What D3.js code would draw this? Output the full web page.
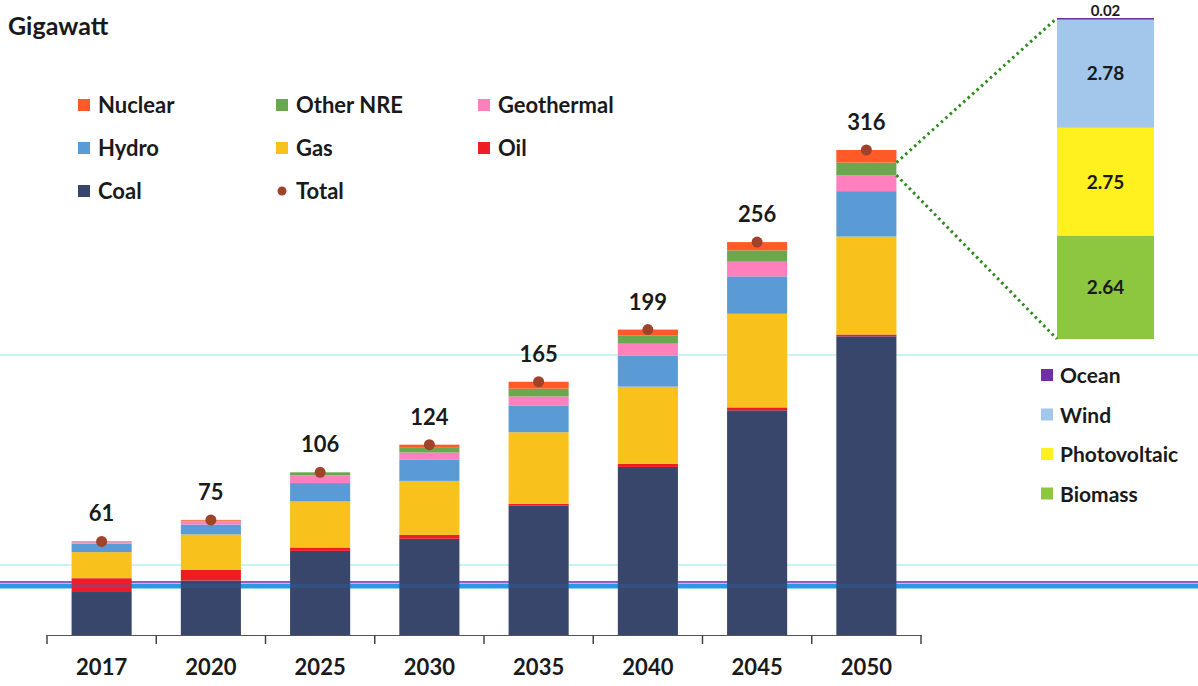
<!DOCTYPE html>
<html>
<head>
<meta charset="utf-8">
<script src="https://cdn.jsdelivr.net/npm/d3@7"></script>
<style>
  body { margin: 0; background: #fff; }
  text { font-family: Lato, "Open Sans", sans-serif; font-weight: 700; fill: #1a1a1a; }
</style>
</head>
<body>
<div id="chart"></div>
<script>
// data (Gigawatt)
var years = ["2017", "2020", "2025", "2030", "2035", "2040", "2045", "2050"];
var coal       = [28, 35.5, 54.8, 62.7, 84.2, 109.5, 146.4, 194.6];
var oil        = [9, 7, 2.2, 2.5, 1.3, 2, 1.9, 1.2];
var gas        = [17, 23, 30, 35.2, 46.6, 50.3, 61, 63.8];
var hydro      = [5.5, 6.5, 12, 13.7, 17.5, 20.2, 24.4, 29.6];
var geothermal = [1, 2, 5, 4.8, 5.8, 7.8, 9.5, 10.4];
var otherNre   = [0.5, 0.5, 2, 3.5, 5.1, 5.2, 7.4, 8.2];
var nuclear    = [0, 0.5, 0, 1.6, 4.5, 4, 5.4, 8.2];
var totals     = [61, 75, 106, 124, 165, 199, 256, 316];

// breakdown of "Other NRE" in 2050, bottom to top
var nreNames  = ["Biomass", "Photovoltaic", "Wind", "Ocean"];
var nreValues = [2.64, 2.75, 2.78, 0.02];

var keys = ["Coal", "Oil", "Gas", "Hydro", "Geothermal", "Other NRE", "Nuclear"];
var color = d3.scaleOrdinal()
    .domain(keys)
    .range(["#37466a", "#ee1c25", "#f9c11c", "#5b9bd5", "#ff80bd", "#6aa84f", "#ff5a28"]);
var nreColor = d3.scaleOrdinal()
    .domain(nreNames)
    .range(["#8dc63f", "#fff01f", "#a2c7ea", "#7030a0"]);

var table = years.map(function(y, i) {
  return {year: y, "Coal": coal[i], "Oil": oil[i], "Gas": gas[i], "Hydro": hydro[i],
          "Geothermal": geothermal[i], "Other NRE": otherNre[i], "Nuclear": nuclear[i],
          total: totals[i]};
});

var width = 1198, height = 686;

var svg = d3.select("#chart")
  .append("svg")
    .attr("width", width)
    .attr("height", height);

// scales
var x = d3.scaleBand()
    .domain(years)
    .range([47, 921])
    .paddingInner(0.45)
    .paddingOuter(0.225);
var y = d3.scaleLinear()
    .domain([0, 316])
    .range([635, 150]);

// faint scan guide lines seen in the picture
svg.append("line").attr("x1", 0).attr("x2", width).attr("y1", 355).attr("y2", 355)
    .attr("stroke", "#8fe8ee").attr("stroke-width", 1.2);
svg.append("line").attr("x1", 0).attr("x2", width).attr("y1", 565).attr("y2", 565)
    .attr("stroke", "#8fe8ee").attr("stroke-width", 1.2);
svg.append("line").attr("x1", 0).attr("x2", width).attr("y1", 586).attr("y2", 586)
    .attr("stroke", "#2aa8e8").attr("stroke-width", 5);
svg.append("line").attr("x1", 0).attr("x2", width).attr("y1", 582).attr("y2", 582)
    .attr("stroke", "#9b59d0").attr("stroke-width", 2);

// stacked bars
var series = d3.stack().keys(keys)(table);

svg.append("g")
  .selectAll("g")
  .data(series)
  .enter().append("g")
    .attr("fill", function(d) { return color(d.key); })
  .selectAll("rect")
  .data(function(d) { return d; })
  .enter().append("rect")
    .attr("x", function(d) { return x(d.data.year); })
    .attr("y", function(d) { return y(d[1]); })
    .attr("height", function(d) { return y(d[0]) - y(d[1]); })
    .attr("width", x.bandwidth());

// blue guide line shows through the bars
svg.append("line").attr("x1", 0).attr("x2", width).attr("y1", 586).attr("y2", 586)
    .attr("stroke", "#2a6fd0").attr("stroke-width", 4).attr("opacity", 0.25);

// total markers
svg.append("g")
  .selectAll("circle")
  .data(table)
  .enter().append("circle")
    .attr("cx", function(d) { return x(d.year) + x.bandwidth() / 2; })
    .attr("cy", function(d) { return y(d.total); })
    .attr("r", 5.5)
    .attr("fill", "#a0432b");

svg.append("g")
  .selectAll("text")
  .data(table)
  .enter().append("text")
    .attr("x", function(d) { return x(d.year) + x.bandwidth() / 2; })
    .attr("y", function(d) { return y(d.total) - 20; })
    .attr("text-anchor", "middle")
    .style("font-size", "22px")
    .text(function(d) { return d.total; });

// X axis: labels under bars, ticks between the bands
var xAxis = svg.append("g")
    .attr("transform", "translate(0," + y(0) + ")")
    .call(d3.axisBottom(x).tickSize(0).tickPadding(24));
xAxis.select(".domain").attr("stroke", "#555").attr("stroke-width", 1.2);
xAxis.selectAll("text")
    .style("font-size", "22px")
    .style("font-family", "Lato, sans-serif")
    .style("font-weight", "700")
    .attr("fill", "#1a1a1a");

var bounds = years.map(function(d) { return x(d) - (x.step() - x.bandwidth()) / 2; });
bounds.push(x.range()[1]);
xAxis.selectAll(".bound")
  .data(bounds)
  .enter().append("line")
    .attr("class", "bound")
    .attr("x1", function(d) { return d; })
    .attr("x2", function(d) { return d; })
    .attr("y1", 0)
    .attr("y2", 9)
    .attr("stroke", "#444")
    .attr("stroke-width", 1.5);

// inset bar: breakdown of Other NRE 2050
var yi = d3.scaleLinear()
    .domain([0, d3.sum(nreValues)])
    .range([339, 18]);
var insetX = 1057, insetW = 97;

var nreStack = d3.stack().keys(nreNames)([
  nreNames.reduce(function(o, k, i) { o[k] = nreValues[i]; return o; }, {})
]);

var inset = svg.append("g");
inset.selectAll("rect")
  .data(nreStack)
  .enter().append("rect")
    .attr("x", insetX)
    .attr("width", insetW)
    .attr("y", function(d) { return yi(d[0][1]); })
    .attr("height", function(d) { return Math.max(yi(d[0][0]) - yi(d[0][1]), 1.5); })
    .attr("fill", function(d) { return nreColor(d.key); });

inset.selectAll("text")
  .data(nreStack)
  .enter().append("text")
    .attr("x", insetX + insetW / 2)
    .attr("y", function(d) {
      var mid = (yi(d[0][0]) + yi(d[0][1])) / 2;
      return d.key === "Ocean" ? 16 : mid + 7;
    })
    .attr("text-anchor", "middle")
    .style("font-size", function(d) { return d.key === "Ocean" ? "15px" : "19px"; })
    .text(function(d, i) { return nreValues[i].toFixed(2); });

// dotted connectors from the 2050 Other NRE slice to the inset
var last = series[keys.indexOf("Other NRE")][years.length - 1];
var bx = x("2050") + x.bandwidth();
svg.append("line")
    .attr("x1", bx).attr("y1", y(last[1]))
    .attr("x2", insetX).attr("y2", yi(d3.sum(nreValues)))
    .attr("stroke", "#2f8a1e").attr("stroke-width", 3)
    .attr("stroke-dasharray", "2.5,3.5");
svg.append("line")
    .attr("x1", bx).attr("y1", y(last[0]))
    .attr("x2", insetX).attr("y2", yi(0))
    .attr("stroke", "#2f8a1e").attr("stroke-width", 3)
    .attr("stroke-dasharray", "2.5,3.5");

// title
svg.append("text")
    .attr("x", 8)
    .attr("y", 35)
    .style("font-size", "25px")
    .text("Gigawatt");

// main legend
var legendItems = [
  {name: "Nuclear", col: 0, row: 0}, {name: "Other NRE", col: 1, row: 0}, {name: "Geothermal", col: 2, row: 0},
  {name: "Hydro", col: 0, row: 1},   {name: "Gas", col: 1, row: 1},       {name: "Oil", col: 2, row: 1},
  {name: "Coal", col: 0, row: 2},    {name: "Total", col: 1, row: 2}
];
var colX = [78, 276, 478], rowY = [105, 148, 191];

var legend = svg.append("g")
  .selectAll("g")
  .data(legendItems)
  .enter().append("g")
    .attr("transform", function(d) { return "translate(" + colX[d.col] + "," + rowY[d.row] + ")"; });

legend.each(function(d) {
  var g = d3.select(this);
  if (d.name === "Total") {
    g.append("circle").attr("cx", 6).attr("cy", 0).attr("r", 4.5).attr("fill", "#a0432b");
  } else {
    g.append("rect").attr("x", 0).attr("y", -6).attr("width", 12).attr("height", 12)
      .attr("fill", color(d.name));
  }
  g.append("text")
    .attr("x", 20)
    .attr("y", 8)
    .style("font-size", "22px")
    .text(d.name);
});

// inset legend
var nreLegend = svg.append("g")
  .selectAll("g")
  .data(nreNames.slice().reverse())
  .enter().append("g")
    .attr("transform", function(d, i) { return "translate(1041," + (375 + i * 39.5) + ")"; });
nreLegend.append("rect")
    .attr("x", 0).attr("y", -6).attr("width", 12).attr("height", 12)
    .attr("fill", function(d) { return nreColor(d); });
nreLegend.append("text")
    .attr("x", 19)
    .attr("y", 8)
    .style("font-size", "21px")
    .text(function(d) { return d; });
</script>
</body>
</html>
